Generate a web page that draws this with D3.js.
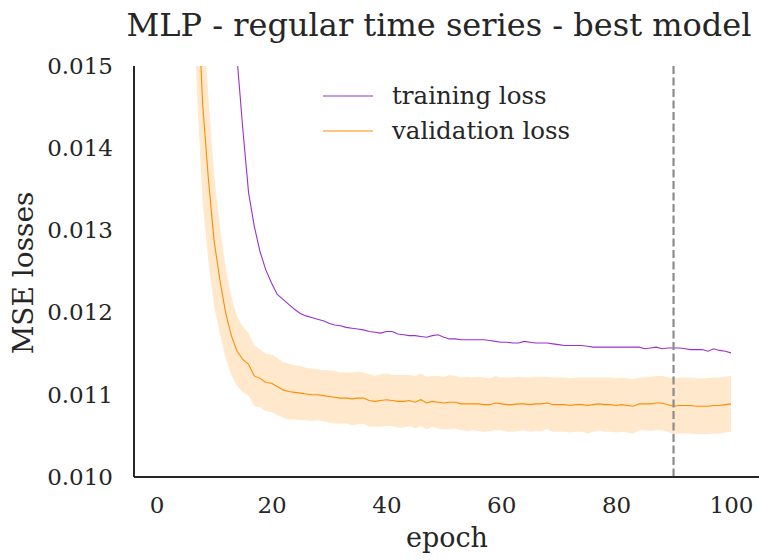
<!DOCTYPE html>
<html lang="en-US">
<head>
<meta charset="utf-8">
<style>
  body { margin: 0; background: #fff; }
  svg text { font-family: "DejaVu Serif", serif; fill: #262626; }
</style>
</head>
<body>
<div id="chart"></div>
<script src="https://cdnjs.cloudflare.com/ajax/libs/d3/7.8.5/d3.min.js"></script>
<script>
// epochs 1..100
var epochs = d3.range(1, 101);

var trainLoss = [
  0.1, 0.078, 0.063, 0.052, 0.043, 0.036, 0.031, 0.027, 0.0235, 0.021,
  0.0192, 0.0175, 0.0161, 0.01509, 0.01423, 0.01346, 0.01305, 0.01274, 0.01252, 0.01236,
  0.01222, 0.01216, 0.01210, 0.01204, 0.01199, 0.01196, 0.01194, 0.01192, 0.01190, 0.01187,
  0.01185, 0.01184, 0.01182, 0.01181, 0.01180, 0.01179, 0.01177, 0.01176, 0.01175, 0.01177,
  0.01177, 0.01174, 0.01173, 0.01172, 0.01172, 0.01171, 0.01170, 0.01172, 0.01173, 0.01170,
  0.01168, 0.01168, 0.01167, 0.01167, 0.01167, 0.01167, 0.01167, 0.01166, 0.01165, 0.01164,
  0.01164, 0.01163, 0.01163, 0.01165, 0.01164, 0.01163, 0.01163, 0.01163, 0.01162, 0.01161,
  0.01160, 0.01160, 0.01160, 0.01160, 0.01159, 0.01158, 0.01158, 0.01158, 0.01158, 0.01158,
  0.01158, 0.01158, 0.01158, 0.01158, 0.01156, 0.01157, 0.01158, 0.01156, 0.01157, 0.01157,
  0.01157, 0.01156, 0.01155, 0.01155, 0.01155, 0.01153, 0.01156, 0.01154, 0.01153, 0.01151
];

var valLoss = [
  0.060, 0.045, 0.034, 0.027, 0.022, 0.0185, 0.0161, 0.01454, 0.01363, 0.01287,
  0.01240, 0.01200, 0.01172, 0.01153, 0.01143, 0.01137, 0.01123, 0.01120, 0.01115, 0.01114,
  0.01110, 0.01106, 0.01104, 0.01103, 0.01102, 0.01101, 0.01100, 0.01100, 0.01099, 0.01098,
  0.01097, 0.01096, 0.01096, 0.01095, 0.01096, 0.01096, 0.01093, 0.01092, 0.01093, 0.01094,
  0.01093, 0.01092, 0.01092, 0.01093, 0.01091, 0.01094, 0.01090, 0.01092, 0.01091, 0.01090,
  0.01091, 0.01091, 0.01089, 0.01089, 0.01089, 0.01089, 0.01088, 0.01088, 0.01090, 0.01089,
  0.01088, 0.01088, 0.01089, 0.01089, 0.01088, 0.01089, 0.01089, 0.01090, 0.01088, 0.01088,
  0.01088, 0.01087, 0.01088, 0.01088, 0.01087, 0.01088, 0.01089, 0.01088, 0.01088, 0.01087,
  0.01088, 0.01087, 0.01086, 0.01089, 0.01089, 0.01089, 0.01090, 0.01090, 0.01088, 0.01086,
  0.01087, 0.01087, 0.01087, 0.01086, 0.01086, 0.01086, 0.01087, 0.01087, 0.01088, 0.01089
];

// spread of the validation loss (shaded band = mean +/- std)
var valStd = [
  0.004, 0.003, 0.0025, 0.002, 0.0018, 0.0016, 0.0014, 0.0012, 0.0010, 0.0008,
  0.00065, 0.00055, 0.00048, 0.00042, 0.00040, 0.00038, 0.00037, 0.00035, 0.00035, 0.00035,
  0.00035, 0.00034, 0.00034, 0.00033, 0.00033, 0.00032, 0.00032, 0.00031, 0.00031, 0.00032,
  0.00032, 0.00031, 0.00031, 0.00032, 0.00032, 0.00031, 0.00032, 0.00031, 0.00032, 0.00032,
  0.00031, 0.00032, 0.00032, 0.00031, 0.00032, 0.00032, 0.00032, 0.00031, 0.00032, 0.00032,
  0.00033, 0.00032, 0.00032, 0.00033, 0.00032, 0.00033, 0.00033, 0.00032, 0.00033, 0.00032,
  0.00033, 0.00033, 0.00033, 0.00032, 0.00033, 0.00033, 0.00033, 0.00032, 0.00033, 0.00033,
  0.00033, 0.00033, 0.00033, 0.00033, 0.00034, 0.00033, 0.00032, 0.00033, 0.00033, 0.00033,
  0.00033, 0.00033, 0.00033, 0.00032, 0.00032, 0.00033, 0.00033, 0.00033, 0.00033, 0.00034,
  0.00034, 0.00034, 0.00034, 0.00034, 0.00034, 0.00034, 0.00034, 0.00034, 0.00034, 0.00034
];

var xTicks = [0, 20, 40, 60, 80, 100];
var yTicks = [0.010, 0.011, 0.012, 0.013, 0.014, 0.015];
var bestEpoch = 90;
var seriesNames = ["training loss", "validation loss"];

var WIDTH = 759, HEIGHT = 560;
var margin = {top: 66, right: 0, bottom: 83, left: 134};

var svg = d3.select("#chart").append("svg")
  .attr("width", WIDTH).attr("height", HEIGHT);

// matplotlib style 5% margins around epochs 1..100
var x = d3.scaleLinear().domain([1 - 4.95, 100 + 4.95])
  .range([margin.left, 759.4]);
var y = d3.scaleLinear().domain([0.010, 0.015])
  .range([HEIGHT - margin.bottom, margin.top]);

svg.append("defs").append("clipPath").attr("id", "plotClip")
  .append("rect")
  .attr("x", margin.left).attr("y", margin.top)
  .attr("width", WIDTH - margin.left).attr("height", y(0.010) - margin.top);

var plot = svg.append("g").attr("clip-path", "url(#plotClip)");

// band
var area = d3.area()
  .x(function (d, i) { return x(epochs[i]); })
  .y0(function (d, i) { return y(valLoss[i] - valStd[i]); })
  .y1(function (d, i) { return y(valLoss[i] + valStd[i]); });
plot.append("path").datum(valLoss)
  .attr("d", area)
  .attr("fill", "#ff8c00").attr("fill-opacity", 0.2);

var line = d3.line().x(function (d, i) { return x(epochs[i]); }).y(function (d) { return y(d); });

plot.append("path").datum(trainLoss)
  .attr("d", line).attr("fill", "none")
  .attr("stroke", "#9932cc").attr("stroke-width", 1.1);

plot.append("path").datum(valLoss)
  .attr("d", line).attr("fill", "none")
  .attr("stroke", "#ff8c00").attr("stroke-width", 1.1);

// best model marker
svg.append("line")
  .attr("x1", x(bestEpoch)).attr("x2", x(bestEpoch))
  .attr("y1", y(0.015)).attr("y2", y(0.010))
  .attr("stroke", "#8c8c8c").attr("stroke-width", 2.2)
  .attr("stroke-dasharray", "8,3.5");

// axes (seaborn despined, no tick marks)
var xAxis = svg.append("g")
  .attr("transform", "translate(0," + y(0.010) + ")")
  .call(d3.axisBottom(x).tickValues(xTicks).tickSize(0).tickPadding(20).tickFormat(d3.format("d")));
var yAxis = svg.append("g")
  .attr("transform", "translate(" + margin.left + ",0)")
  .call(d3.axisLeft(y).tickValues(yTicks).tickSize(0).tickPadding(21).tickFormat(d3.format(".3f")));

[xAxis, yAxis].forEach(function (g) {
  g.select(".domain").attr("stroke", "#262626").attr("stroke-width", 2);
  g.selectAll("text").style("font-family", "DejaVu Serif").style("font-size", "23px").attr("fill", "#262626");
});
xAxis.select(".domain").attr("d", "M" + margin.left + ",0H" + WIDTH);
yAxis.select(".domain").attr("d", "M0," + y(0.015) + "V" + y(0.010));

svg.append("text")
  .attr("x", 447).attr("y", 547)
  .attr("text-anchor", "middle")
  .style("font-size", "27px")
  .text("epoch");

svg.append("text")
  .attr("transform", "translate(33,273) rotate(-90)")
  .attr("text-anchor", "middle")
  .style("font-size", "28px")
  .text("MSE losses");

svg.append("text")
  .attr("x", 439).attr("y", 36)
  .attr("text-anchor", "middle")
  .style("font-size", "32px")
  .text("MLP - regular time series - best model");

// legend
var legendColors = ["#9932cc", "#ff8c00"];
var legend = svg.append("g");
seriesNames.forEach(function (name, i) {
  var ly = 96 + i * 35;
  legend.append("line")
    .attr("x1", 323).attr("x2", 373).attr("y1", ly).attr("y2", ly)
    .attr("stroke", legendColors[i]).attr("stroke-width", 1.1);
  legend.append("text")
    .attr("x", 392).attr("y", ly + 8)
    .style("font-size", "24.5px")
    .text(name);
});
</script>
</body>
</html>
